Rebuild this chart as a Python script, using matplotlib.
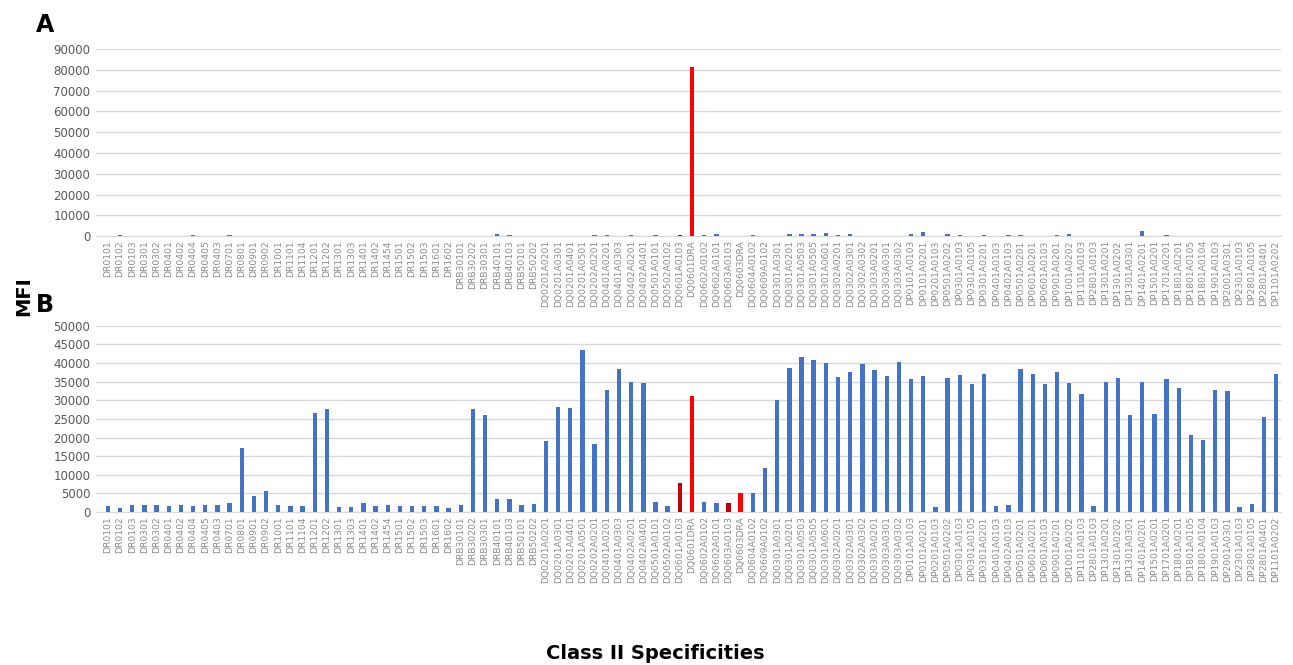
import matplotlib.pyplot as plt
import numpy as np

# Specificities (same order in both panels)
labels = [
    'DR0101', 'DR0102', 'DR0103', 'DR0301', 'DR0302', 'DR0401', 'DR0402', 'DR0404',
    'DR0405', 'DR0403', 'DR0701', 'DR0801', 'DR0901', 'DR0902', 'DR1001', 'DR1101',
    'DR1104', 'DR1201', 'DR1202', 'DR1301', 'DR1303', 'DR1401', 'DR1402', 'DR1454',
    'DR1501', 'DR1502', 'DR1503', 'DR1601', 'DR1602',
    'DRB30101', 'DRB30202', 'DRB30301', 'DRB40101', 'DRB40103', 'DRB50101', 'DRB50202',
    'DQ0201A0201', 'DQ0201A0301', 'DQ0201A0401', 'DQ0201A0501', 'DQ0202A0201',
    'DQ0401A0201', 'DQ0401A0303', 'DQ0402A0201', 'DQ0402A0401', 'DQ0501A0101',
    'DQ0502A0102', 'DQ0601A0103', 'DQ0601DRA', 'DQ0602A0102', 'DQ0602A0101',
    'DQ0603A0103', 'DQ0603DRA', 'DQ0604A0102', 'DQ0609A0102', 'DQ0301A0301',
    'DQ0301A0201', 'DQ0301A0503', 'DQ0301A0505', 'DQ0301A0601', 'DQ0302A0201',
    'DQ0302A0301', 'DQ0302A0302', 'DQ0303A0201', 'DQ0303A0301', 'DQ0303A0302',
    'DP0101A0103', 'DP0101A0201', 'DP0201A0103', 'DP0501A0202', 'DP0301A0103',
    'DP0301A0105', 'DP0301A0201', 'DP0401A0103', 'DP0402A0103', 'DP0501A0201',
    'DP0601A0201', 'DP0601A0103', 'DP0901A0201', 'DP1001A0202', 'DP1101A0103',
    'DP2801A0103', 'DP1301A0201', 'DP1301A0202', 'DP1301A0301', 'DP1401A0201',
    'DP1501A0201', 'DP1701A0201', 'DP1801A0201', 'DP1801A0105', 'DP1801A0104',
    'DP1901A0103', 'DP2001A0301', 'DP2301A0103', 'DP2801A0105', 'DP2801A0401',
    'DP1101A0202',
]

# Panel A MFI
mfi_a = [
    150, 300, 100, 100, 100, 100, 100, 600,
    100, 100, 300, 100, 100, 100, 100, 100,
    100, 100, 100, 100, 100, 100, 100, 100,
    100, 100, 100, 100, 100,
    100, 100, 100, 1200, 700, 100, 100,
    100, 100, 100, 100, 300,
    500, 100, 400, 100, 300,
    100, 300, 81300, 300, 800,
    100, 100, 300, 100, 100,
    900, 1000, 1000, 1500, 300,
    900, 100, 100, 100, 100,
    900, 1900, 100, 900, 500,
    100, 300, 100, 700, 500,
    100, 100, 400, 900, 100,
    100, 100, 100, 100, 2400,
    100, 500, 100, 100, 100,
    100, 100, 100, 100, 100,
    100,
]

# Panel B MFI
mfi_b = [
    1500, 1200, 1900, 1800, 1800, 1500, 1800, 1500,
    1800, 2000, 2500, 17300, 4400, 5700, 2000, 1600,
    1700, 26700, 27600, 1400, 1300, 2500, 1600, 2000,
    1600, 1500, 1500, 1600, 1100,
    2000, 27800, 26000, 3400, 3400, 1800, 2200,
    19200, 28300, 28000, 43400, 18400,
    32900, 38500, 35000, 34700, 2600,
    1500, 7800, 31200, 2800, 2500,
    2400, 5200, 5000, 11900, 30000,
    38600, 41600, 40800, 40100, 36200,
    37700, 39800, 38200, 36500, 40400,
    35600, 36500, 1400, 36100, 36800,
    34400, 37200, 1600, 1800, 38400,
    37100, 34400, 37500, 34700, 31600,
    1700, 35000, 36100, 26100, 34800,
    26200, 35800, 33300, 20700, 19300,
    32700, 32600, 1400, 2200, 25400,
    37200,
]

blue = '#4472C4'
colors = [blue] * len(labels)
colors[labels.index('DQ0601DRA')] = '#FF0000'
colors[labels.index('DQ0603DRA')] = '#FF0000'
colors[labels.index('DQ0601A0103')] = '#C00000'
colors[labels.index('DQ0603A0103')] = '#C00000'

x = np.arange(len(labels))

fig = plt.figure(figsize=(12.93, 6.65), dpi=100)
ax1 = fig.add_axes([0.0742, 0.645, 0.9165, 0.281])
ax2 = fig.add_axes([0.0742, 0.230, 0.9165, 0.280])

for ax, vals, top, step in [(ax1, mfi_a, 90000, 10000), (ax2, mfi_b, 50000, 5000)]:
    ax.bar(x, vals, width=0.36, color=colors, zorder=3)
    ax.set_xlim(-0.98, 96.4)
    ax.set_ylim(0, top)
    ax.set_yticks(np.arange(0, top + 1, step))
    ax.yaxis.grid(True, color='#D9D9D9', linewidth=1, zorder=0)
    for s in ['top', 'right', 'left']:
        ax.spines[s].set_visible(False)
    ax.spines['bottom'].set_color('#D9D9D9')
    ax.tick_params(axis='both', length=0, colors='#595959')
    ax.tick_params(axis='y', labelsize=8.5, pad=4)
    ax.set_xticks(x)
    ax.set_xticklabels(labels, rotation=90, fontsize=6.6, color='#8C8C8C')
    ax.tick_params(axis='x', pad=3)

fig.text(0.028, 0.962, 'A', fontsize=17, fontweight='bold', ha='left', va='center')
fig.text(0.028, 0.541, 'B', fontsize=17, fontweight='bold', ha='left', va='center')
fig.text(0.018, 0.555, 'MFI', fontsize=14, fontweight='bold', rotation=90,
         ha='center', va='center')
fig.text(0.507, 0.018, 'Class II Specificities', fontsize=14, fontweight='bold',
         ha='center', va='center')

plt.savefig('out.png', dpi=100)
